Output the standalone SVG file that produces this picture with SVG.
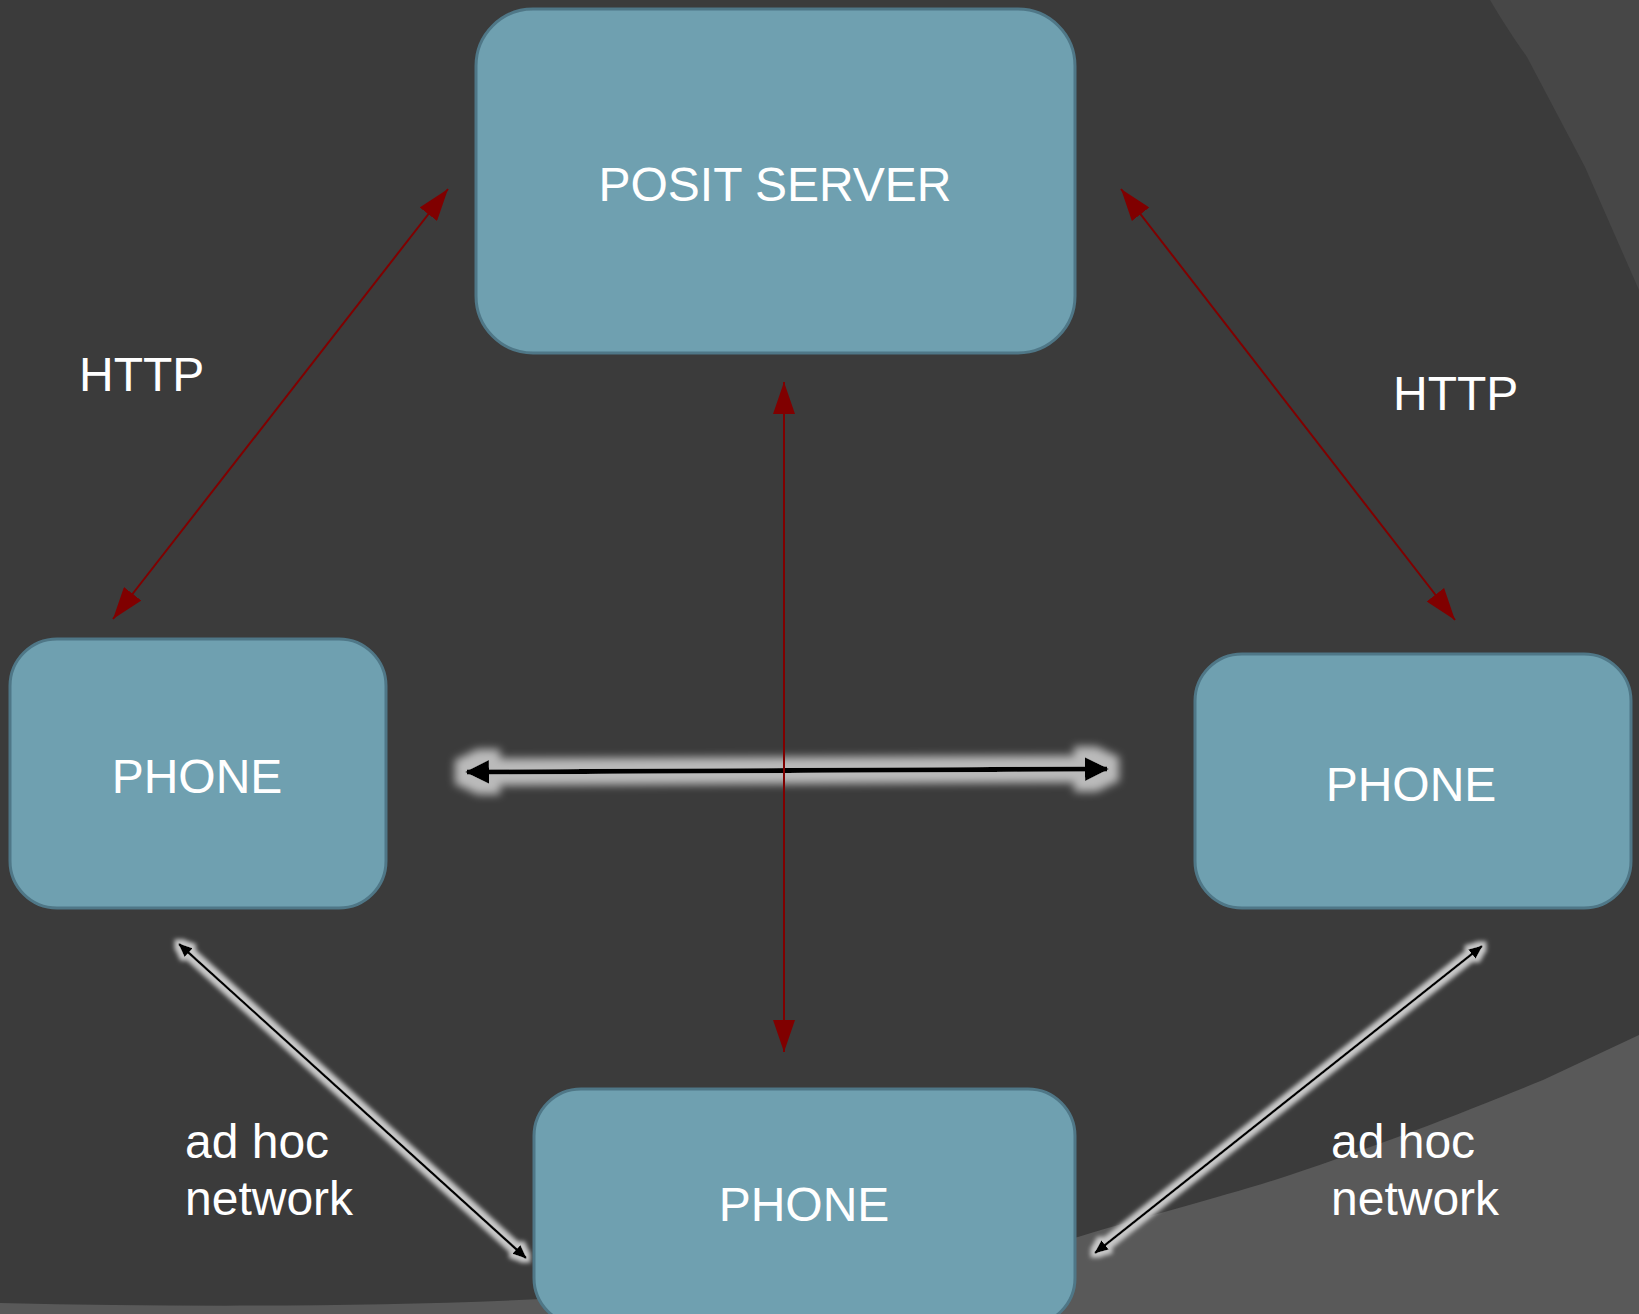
<svg xmlns="http://www.w3.org/2000/svg" width="1639" height="1314" viewBox="0 0 1639 1314">
<style>
.box{fill:#6fa0b0;stroke:#4f7787;stroke-width:3}
.lbl{font-family:"Liberation Sans",Arial,sans-serif;font-size:48px;fill:#ffffff}
.ctr{text-anchor:middle}
.red{stroke:#800000;stroke-width:2;fill:none}
.blk{stroke:#000;fill:none}
</style>
<defs>
<marker id="rh" viewBox="0 0 32 22" refX="32" refY="11" markerWidth="32" markerHeight="22" markerUnits="userSpaceOnUse" orient="auto-start-reverse">
<path d="M0,0 L32,11 L0,22 Z" fill="#800000"/>
</marker>
<marker id="bh" viewBox="0 0 24 24" refX="22" refY="12" markerWidth="24" markerHeight="24" markerUnits="userSpaceOnUse" orient="auto-start-reverse">
<path d="M0,0 L24,12 L0,24 Z" fill="#000"/>
</marker>
<marker id="bs" viewBox="0 0 14 12" refX="13" refY="6" markerWidth="14" markerHeight="12" markerUnits="userSpaceOnUse" orient="auto-start-reverse">
<path d="M0,0 L14,6 L0,12 Z" fill="#000"/>
</marker>
<filter id="glowL" filterUnits="userSpaceOnUse" x="0" y="0" width="1639" height="1314">
<feMorphology in="SourceAlpha" operator="dilate" radius="11" result="d"/>
<feGaussianBlur in="d" stdDeviation="4" result="b"/>
<feFlood flood-color="#bababa"/>
<feComposite in2="b" operator="in" result="g"/>
<feMerge><feMergeNode in="g"/><feMergeNode in="SourceGraphic"/></feMerge>
</filter>
<filter id="glowS" filterUnits="userSpaceOnUse" x="0" y="0" width="1639" height="1314">
<feMorphology in="SourceAlpha" operator="dilate" radius="4" result="d"/>
<feGaussianBlur in="d" stdDeviation="2.2" result="b"/>
<feFlood flood-color="#c8c8c8"/>
<feComposite in2="b" operator="in" result="g"/>
<feMerge><feMergeNode in="g"/><feMergeNode in="SourceGraphic"/></feMerge>
</filter>
</defs>
<g id="background">
<rect x="0" y="0" width="1639" height="1314" fill="#3b3b3b"/>
<path d="M1490,0 C1505,25 1515,40 1527,57 L1585,167 L1639,290 V0 Z" fill="#474747"/>
<path d="M0,1303 C400,1312 800,1300 1078,1237 C1150,1215 1230,1195 1290,1175 C1380,1145 1470,1110 1543,1080 L1639,1035 V1314 H0 Z" fill="#595959"/>
</g>
<g id="connectors">
<path class="blk" d="M467,772 L1107,769" stroke-width="5" marker-start="url(#bh)" marker-end="url(#bh)" filter="url(#glowL)"/>
<path class="blk" d="M179,944 L526,1258" stroke-width="2.5" marker-start="url(#bs)" marker-end="url(#bs)" filter="url(#glowS)"/>
<path class="blk" d="M1482,946 L1095,1253" stroke-width="2.5" marker-start="url(#bs)" marker-end="url(#bs)" filter="url(#glowS)"/>
<path class="red" d="M113,619 L448,189" marker-start="url(#rh)" marker-end="url(#rh)"/>
<path class="red" d="M1121,189 L1455,620" marker-start="url(#rh)" marker-end="url(#rh)"/>
<path class="red" d="M784,382 L784,1052" marker-start="url(#rh)" marker-end="url(#rh)"/>
</g>
<g id="server">
<rect class="box" x="476" y="9" width="599" height="344" rx="57"/>
<text class="lbl ctr" x="775" y="201">POSIT SERVER</text>
</g>
<g id="phone-left">
<rect class="box" x="10" y="639" width="376" height="269" rx="47"/>
<text class="lbl ctr" x="197" y="793">PHONE</text>
</g>
<g id="phone-right">
<rect class="box" x="1195" y="654" width="436" height="254" rx="47"/>
<text class="lbl ctr" x="1411" y="801">PHONE</text>
</g>
<g id="phone-bottom">
<rect class="box" x="534" y="1089" width="541" height="236" rx="47"/>
<text class="lbl ctr" x="804" y="1221">PHONE</text>
</g>
<g id="labels">
<text class="lbl" x="79" y="391">HTTP</text>
<text class="lbl" x="1393" y="410">HTTP</text>
<text class="lbl" x="185" y="1158">ad hoc</text>
<text class="lbl" x="185" y="1215">network</text>
<text class="lbl" x="1331" y="1158">ad hoc</text>
<text class="lbl" x="1331" y="1215">network</text>
</g>
</svg>
